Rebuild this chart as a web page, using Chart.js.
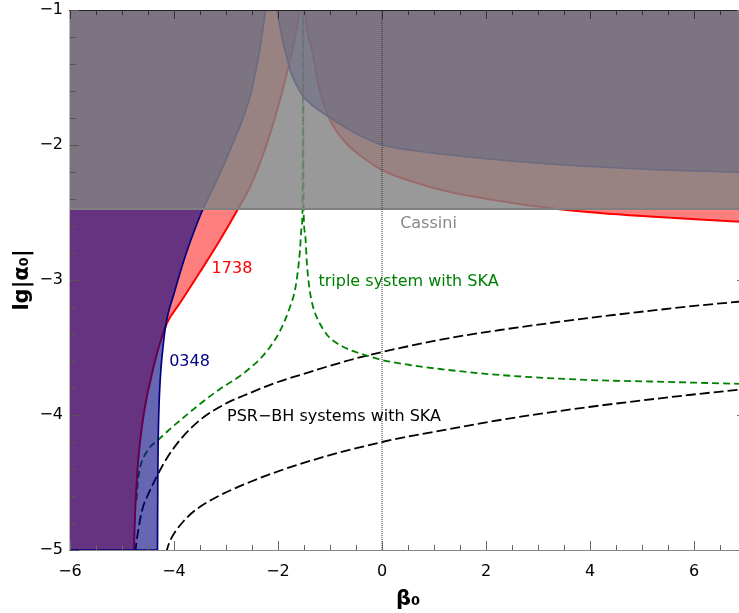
<!DOCTYPE html>
<html>
<head>
<meta charset="utf-8">
<script src="https://cdn.jsdelivr.net/npm/chart.js@4.4.1/dist/chart.umd.min.js"></script>
<style>
  html, body { margin: 0; padding: 0; overflow: hidden; background: #fff; }
  canvas { display: block; }
</style>
</head>
<body>
<canvas id="c" width="760" height="613"></canvas>
<script>
// ---- axis ticks ----
const xTickValues = [-6, -4, -2, 0, 2, 4, 6];
const yTickValues = [-5, -4, -3, -2, -1];

// ---- PSR J1738+0333 bound (region above is excluded) ----
const psr1738X = [-6.5, -4.7731, -4.7692, -4.75, -4.7212, -4.6923, -4.6538, -4.5962, -4.5192, -4.4423, -4.3654, -4.2692, -4.1346, -3.8846, -3.5, -3.1154, -2.7692, -2.5385, -2.3462, -2.1538, -1.9615, -1.7692, -1.6538, -1.5962, -1.5385, -1.4808, -1.3462, -1.1923, -1.0, -0.7115, -0.3269, 0, 0.7308, 1.3077, 2.2692, 3.2115, 4.1923, 5.1538, 6.1154, 7.0];
const psr1738Y = [-6.0, -5.0148, -4.9852, -4.7407, -4.5259, -4.3556, -4.2, -4.0296, -3.8593, -3.7259, -3.6, -3.4667, -3.3185, -3.1704, -2.9407, -2.7037, -2.4741, -2.3111, -2.1333, -1.9185, -1.6667, -1.3704, -1.1556, -1.0, -0.5, -1.0, -1.2963, -1.6074, -1.8148, -1.9778, -2.1037, -2.1852, -2.2889, -2.3481, -2.4148, -2.4667, -2.5037, -2.5296, -2.5519, -2.5704];

// ---- PSR J0348+0432 bound ----
const psr0348X = [-6.5, -4.3173, -4.3154, -4.3115, -4.3058, -4.2962, -4.2827, -4.2654, -4.2404, -4.2115, -4.1731, -4.1058, -4.0192, -3.8846, -3.75, -3.5962, -3.4423, -3.1731, -2.8654, -2.5385, -2.4423, -2.3462, -2.2885, -2.2404, -2.1346, -2.0192, -1.9615, -1.9038, -1.8269, -1.7692, -1.6731, -1.5192, -1.3462, -1.1346, -0.8077, -0.5192, -0.2308, 0, 0.5385, 1.3077, 2.2692, 3.2308, 4.1923, 5.1538, 6.1154, 7.0];
const psr0348Y = [-5.0, -5.0, -4.7778, -4.4815, -4.2370, -4.0370, -3.8741, -3.7407, -3.6074, -3.4963, -3.3704, -3.2370, -3.1259, -2.9481, -2.7852, -2.6222, -2.4741, -2.2593, -1.9852, -1.6444, -1.4815, -1.2815, -1.1333, -1.0, -0.5, -1.0, -1.1259, -1.2370, -1.3556, -1.4444, -1.5333, -1.6370, -1.7037, -1.7630, -1.8444, -1.9111, -1.9630, -2.0, -2.0370, -2.0741, -2.1111, -2.1407, -2.1630, -2.1815, -2.1926, -2.2037];

// ---- Cassini bound ----
const cassiniX = [-6, 7];
const cassiniY = [-2.474, -2.474];

// ---- triple system with SKA ----
const tripleX = [-4.7212, -4.7077, -4.6923, -4.6538, -4.6154, -4.5385, -4.4615, -4.3077, -4.0769, -3.8269, -3.5, -3.1154, -2.7308, -2.5385, -2.3462, -2.1538, -1.9615, -1.7692, -1.6731, -1.6154, -1.5769, -1.5481, -1.5288, -1.5212, -1.5192, -1.5173, -1.5154, -1.5135, -1.5077, -1.4808, -1.4423, -1.4038, -1.3654, -1.3077, -1.2308, -1.1346, -1.0385, -0.9038, -0.6154, -0.3269, 0, 0.5385, 1.1154, 2.2692, 3.9808, 5.1538, 7.0];
const tripleY = [-4.6296, -4.5556, -4.4815, -4.3926, -4.3407, -4.2815, -4.2370, -4.1852, -4.1037, -4.0222, -3.9185, -3.8074, -3.7111, -3.6519, -3.5852, -3.4963, -3.3778, -3.2, -3.0741, -2.9259, -2.7778, -2.6148, -2.4741, -1.6667, -1.0, -0.8, -1.0, -1.6667, -2.4741, -2.6519, -2.8889, -3.0370, -3.1333, -3.2222, -3.2963, -3.3630, -3.4148, -3.4593, -3.5185, -3.5556, -3.5926, -3.6296, -3.6593, -3.7037, -3.7407, -3.7519, -3.7704];

// ---- PSR-BH systems with SKA (two curves) ----
const bhUpperX = [-4.7442, -4.7308, -4.7115, -4.6827, -4.6538, -4.5962, -4.5192, -4.4231, -4.3077, -4.1346, -3.8846, -3.5, -3.0192, -2.5385, -2.0577, -1.5769, -0.6154, 0, 1.3077, 2.2692, 3.9808, 5.9038, 7.0];
const bhUpperY = [-5.0222, -4.9704, -4.9111, -4.8444, -4.7778, -4.6815, -4.6074, -4.5259, -4.4370, -4.3185, -4.1852, -4.0370, -3.9185, -3.8370, -3.7630, -3.7037, -3.5926, -3.5333, -3.4296, -3.3704, -3.2815, -3.1963, -3.1556];
const bhLowerX = [-4.1442, -4.1346, -4.0769, -3.9808, -3.8462, -3.6346, -3.25, -2.5385, -1.5769, 0, 1.3077, 2.2692, 3.9808, 5.9038, 7.0];
const bhLowerY = [-5.0222, -5.0, -4.9333, -4.8667, -4.8, -4.7185, -4.6222, -4.4963, -4.3630, -4.2, -4.1037, -4.0370, -3.9407, -3.8519, -3.8074];

// ---- vertical reference at beta0 = 0 ----
const zeroX = [0, 0];
const zeroY = [-5, -1];

// ---- text annotations ----
const noteTexts = ['1738', '0348', 'Cassini', 'triple system with SKA', 'PSR\u2212BH systems with SKA'];
const noteX = [-2.885, -3.702, 0.894, 0.51, -0.923];
const noteY = [-2.915, -3.604, -2.581, -3.015, -4.011];
const noteColors = ['#ff0000', '#000080', '#888888', '#008000', '#000000'];

const pts = (xs, ys) => xs.map((v, i) => ({x: v, y: ys[i]}));
const fmt = v => (v < 0 ? '\u2212' + Math.abs(v) : String(v));

const frameTicks = {
  id: 'frameTicks',
  beforeDatasetsDraw(chart) {
    const {ctx, chartArea: a} = chart;
    const L = Math.round(a.left), R = Math.round(a.right), T = Math.round(a.top), B = Math.round(a.bottom);
    ctx.save();
    ctx.lineWidth = 1;
    ctx.strokeStyle = '#bbbbbb';
    ctx.beginPath(); ctx.moveTo(L - 0.5, T); ctx.lineTo(L - 0.5, B + 1); ctx.stroke();
    ctx.strokeStyle = '#888888';
    ctx.beginPath(); ctx.moveTo(L - 1, B + 0.5); ctx.lineTo(R, B + 0.5); ctx.stroke();
    ctx.restore();
  },
  afterDatasetsDraw(chart) {
    const {ctx, scales: {x, y}} = chart;
    ctx.save();
    ctx.font = '16px "DejaVu Sans"';
    ctx.textAlign = 'center';
    ctx.textBaseline = 'middle';
    noteTexts.forEach((t, i) => {
      ctx.fillStyle = noteColors[i];
      ctx.fillText(t, x.getPixelForValue(noteX[i]), y.getPixelForValue(noteY[i]));
    });
    ctx.restore();
  },
  afterDraw(chart) {
    const {ctx, chartArea: a, scales: {x, y}} = chart;
    ctx.save();
    ctx.lineWidth = 1;
    const L = Math.round(a.left), R = Math.round(a.right), T = Math.round(a.top), B = Math.round(a.bottom);
    ctx.strokeStyle = '#222222';
    ctx.beginPath(); ctx.moveTo(L - 1, T + 0.5); ctx.lineTo(R, T + 0.5); ctx.stroke();
    // x ticks (major every 2, minor every 0.5)
    for (let k = 0; k <= 26; k++) {
      const v = -6 + k * 0.5;
      const len = (k % 4 === 0) ? 9 : 5;
      const px = Math.round(x.getPixelForValue(v)) + 0.5;
      ctx.strokeStyle = '#666666';
      ctx.beginPath(); ctx.moveTo(px, B); ctx.lineTo(px, B - len); ctx.stroke();
      ctx.strokeStyle = '#333333';
      ctx.beginPath(); ctx.moveTo(px, T); ctx.lineTo(px, T + len); ctx.stroke();
    }
    // y ticks (major every 1, minor every 0.2)
    for (let k = 0; k <= 20; k++) {
      const v = -5 + k * 0.2;
      const len = (k % 5 === 0) ? 9 : 6;
      const py = Math.round(y.getPixelForValue(v)) + 0.5;
      ctx.strokeStyle = '#555555';
      ctx.beginPath(); ctx.moveTo(L, py); ctx.lineTo(L + len, py); ctx.stroke();
      ctx.strokeStyle = '#777777';
      ctx.beginPath(); ctx.moveTo(R, py); ctx.lineTo(R - len, py); ctx.stroke();
    }
    ctx.restore();
  }
};

Chart.defaults.font.family = '"DejaVu Sans"';
Chart.defaults.font.size = 16;
Chart.defaults.color = '#000';

const curve = { showLine: true, pointRadius: 0, cubicInterpolationMode: 'monotone' };

new Chart(document.getElementById('c'), {
  type: 'scatter',
  data: {
    datasets: [
      { data: pts(zeroX, zeroY), showLine: true, borderColor: '#333333', borderWidth: 1, borderDash: [1, 1], pointRadius: 0, fill: false, order: 0 },
      { data: pts(cassiniX, cassiniY), showLine: true, borderColor: '#808080', borderWidth: 2, backgroundColor: 'rgba(130,130,130,0.82)', pointRadius: 0, fill: 'end', order: 1 },
      { ...curve, data: pts(psr0348X, psr0348Y), borderColor: '#000080', borderWidth: 1.7, backgroundColor: 'rgba(0,0,128,0.6)', fill: 'end', order: 2 },
      { ...curve, data: pts(psr1738X, psr1738Y), borderColor: '#ff0000', borderWidth: 2, backgroundColor: 'rgba(255,0,0,0.5)', fill: 'end', order: 3 },
      { ...curve, data: pts(tripleX, tripleY), borderColor: '#008000', borderWidth: 1.8, borderDash: [7, 4], fill: false, order: 4 },
      { ...curve, data: pts(bhUpperX, bhUpperY), borderColor: '#000000', borderWidth: 1.8, borderDash: [10, 4], fill: false, order: 5 },
      { ...curve, data: pts(bhLowerX, bhLowerY), borderColor: '#000000', borderWidth: 1.8, borderDash: [10, 4], fill: false, order: 6 }
    ]
  },
  options: {
    responsive: false,
    animation: false,
    devicePixelRatio: 1,
    layout: { padding: { top: 10, right: 14, left: 0, bottom: 0 } },
    plugins: { legend: { display: false }, tooltip: { enabled: false } },
    scales: {
      x: {
        type: 'linear', min: -6, max: 7,
        grid: { display: false, drawTicks: false },
        border: { display: false },
        afterBuildTicks: s => { s.ticks = xTickValues.map(v => ({value: v})); },
        afterFit: s => { s.height = 63; s.paddingLeft = 0; s.paddingRight = 0; },
        ticks: { padding: 12, callback: fmt, maxRotation: 0, autoSkip: false },
        title: { display: true, text: 'β₀', font: { size: 21, weight: 'bold' }, padding: { top: 0, bottom: 1 } }
      },
      y: {
        type: 'linear', min: -5, max: -1,
        grid: { display: false, drawTicks: false },
        border: { display: false },
        afterBuildTicks: s => { s.ticks = yTickValues.map(v => ({value: v})); },
        afterFit: s => { s.width = 70; s.paddingTop = 0; s.paddingBottom = 0; },
        ticks: { padding: 7, callback: fmt, autoSkip: false },
        title: { display: true, text: 'lg|α₀|', font: { size: 21, weight: 'bold' }, padding: { top: 10, bottom: 0 } }
      }
    }
  },
  plugins: [frameTicks]
});
</script>
</body>
</html>
